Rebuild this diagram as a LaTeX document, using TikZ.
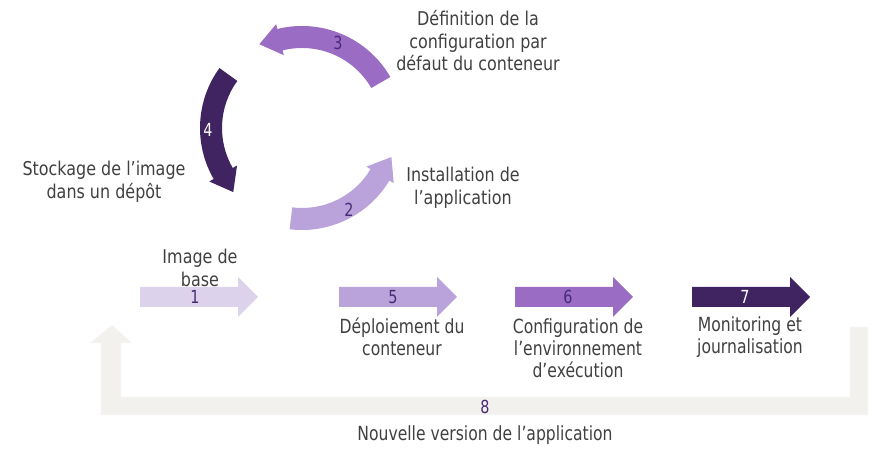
\documentclass[tikz,border=0pt]{standalone}
\usepackage{fontspec}
\setmainfont{DejaVu Sans}[FakeStretch=0.84]
\newfontfamily\narrowfont{DejaVu Sans}[FakeStretch=0.8]
\usepackage{xcolor}
\definecolor{lilac}{HTML}{DDD2EC}
\definecolor{lavender}{HTML}{B9A3DA}
\definecolor{violet}{HTML}{9A6CC4}
\definecolor{plum}{HTML}{3F2461}
\definecolor{numpurple}{HTML}{4A2A78}
\definecolor{txtgray}{HTML}{404040}
\definecolor{loopgray}{HTML}{F2F1EE}

% curved step of the cycle: start angle, end angle, colour
\newcommand{\cyclearrow}[3]{%
  \fill[#3] (#1:102) arc[start angle=#1, end angle=#2-13, radius=102]
    -- (#2-13:107) -- (#2:94) -- (#2-13:75) -- (#2-13:80)
    arc[start angle=#2-13, end angle=#1, radius=80] -- cycle;}
% straight step: left x, colour
\newcommand{\stepbar}[2]{%
  \fill[#2] (#1,150) -- ++(98,0) -- ++(0,-10) -- ++(20,20) -- ++(-20,20)
    -- ++(0,-10) -- ++(-98,0) -- cycle;}

\tikzset{
  lbl/.style={text=txtgray, align=center, font=\fontsize{19}{22.5}\selectfont},
  lowlbl/.style={lbl, font=\narrowfont\fontsize{19.5}{22}\selectfont},
  num/.style={text=numpurple, font=\narrowfont\fontsize{18}{20}\selectfont},
  numw/.style={num, text=white}
}

\begin{document}
\begin{tikzpicture}[x=1pt,y=1pt]
    \useasboundingbox (0,0) rectangle (871,457);

    % Draw the loop back arrow
    \filldraw[fill=loopgray, draw=white!60!loopgray, line width=0.6pt]
      (101,42) -- (868,42) -- (868,130) -- (850,130) -- (850,60) -- (121,60)
      -- (121,114) -- (132,114) -- (112,132) -- (90,114) -- (101,114) -- cycle;

    % Draw the cycle
    \begin{scope}[shift={(302,329)}]
      \cyclearrow{263}{342}{lavender}
      \cyclearrow{30}{117}{violet}
      \cyclearrow{144}{223}{plum}
      \node[num] (n2) at (-60:94) {2};
      \node[num] (n3) at (67:92) {3};
      \node[numw] (n4) at (181:94) {4};
    \end{scope}

    % Draw the steps
    \stepbar{140}{lilac}
    \stepbar{339}{lavender}
    \stepbar{515}{violet}
    \stepbar{692}{plum}
    \node[num] (n1) at (195,160) {1};
    \node[num] (n5) at (393,160) {5};
    \node[num] (n6) at (568,160) {6};
    \node[numw] (n7) at (745,160) {7};
    \node[num] (n8) at (485,50) {8};

    % Add the labels
    \node[lbl] (defcfg) at (478,416) {Définition de la\\configuration par\\défaut du conteneur};
    \node[lbl] (install) at (463,269) {Installation de\\l’application};
    \node[lbl] (store) at (104,275) {Stockage de l’image\\dans un dépôt};
    \node[lbl] (base) at (200,189) {Image de\\base};
    \node[lowlbl] (deploy) at (402,120) {Déploiement du\\conteneur};
    \node[lowlbl] (runcfg) at (578,109) {Configuration de\\l’environnement\\d’exécution};
    \node[lowlbl] (monitor) at (750,120) {Monitoring et\\journalisation};
    \node[lowlbl] (newver) at (485,22) {Nouvelle version de l’application};
\end{tikzpicture}
\end{document}
